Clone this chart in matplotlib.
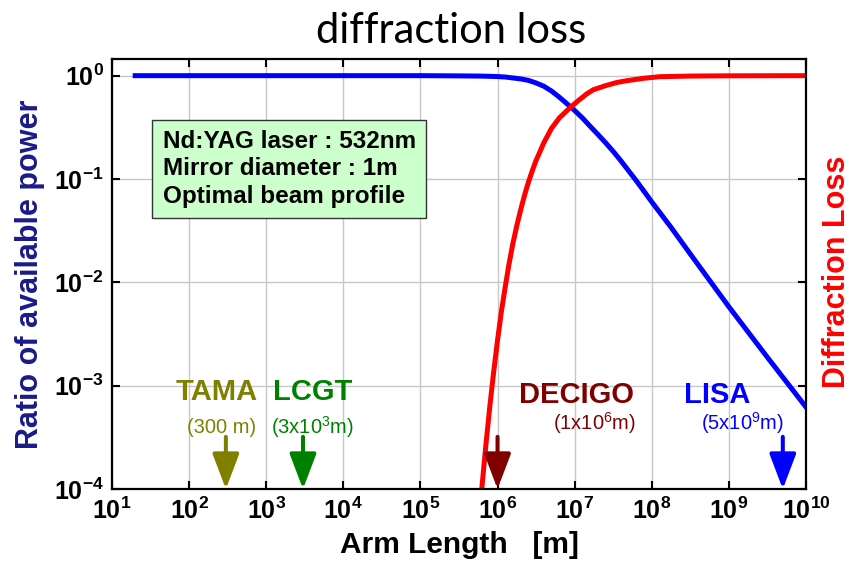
import numpy as np
import matplotlib
matplotlib.use('Agg')
import matplotlib.pyplot as plt

plt.rcParams['font.family'] = ['Liberation Sans', 'DejaVu Sans']
plt.rcParams['mathtext.fontset'] = 'custom'
plt.rcParams['mathtext.rm'] = 'Liberation Sans'
plt.rcParams['mathtext.bf'] = 'Liberation Sans:bold'
plt.rcParams['mathtext.it'] = 'Liberation Sans:italic'

# Curva azul: razao de potencia disponivel
blue_x = [20, 1e5, 3.16e5, 6.31e5, 1e6, 1.26e6, 1.58e6, 2.0e6, 2.51e6, 3.16e6,
          3.98e6, 5.01e6, 6.31e6, 7.94e6, 1e7, 1.26e7, 1.58e7, 2.0e7, 2.51e7,
          3.16e7, 3.98e7, 5.01e7, 6.31e7, 7.94e7, 1e8, 1.78e8, 3.16e8, 1e9,
          3.16e9, 1e10]
blue_y = [1.0, 1.0, 0.995, 0.99, 0.98, 0.97, 0.95, 0.93, 0.90, 0.85,
          0.79, 0.71, 0.62, 0.535, 0.46, 0.39, 0.325, 0.27, 0.225,
          0.185, 0.15, 0.12, 0.096, 0.076, 0.06, 0.034, 0.0188, 5.8e-3,
          1.88e-3, 6.2e-4]

# Curva vermelha: perda por difracao
red_x = [6.24e5, 7.08e5, 7.94e5, 8.91e5, 1e6, 1.12e6, 1.26e6, 1.41e6, 1.58e6,
         1.78e6, 2.0e6, 2.24e6, 2.51e6, 2.82e6, 3.16e6, 3.98e6, 5.01e6, 6.31e6,
         8.71e6, 1.12e7, 1.41e7, 1.74e7, 2.51e7, 3.55e7, 4.79e7, 7.94e7,
         1.26e8, 3.16e8, 1e9, 1e10]
red_y = [1e-4, 2.72e-4, 6.3e-4, 1.36e-3, 2.75e-3, 5.19e-3, 9.1e-3, 0.0151, 0.0237,
         0.0355, 0.0507, 0.0697, 0.0929, 0.120, 0.151, 0.224, 0.309, 0.389,
         0.49, 0.575, 0.66, 0.73, 0.80, 0.86, 0.895, 0.944,
         0.977, 0.991, 0.9966, 1.0]

# Detectores
det_names = ['TAMA', 'LCGT', 'DECIGO', 'LISA']
det_length = [300, 3e3, 1e6, 5e9]
det_sub = [r'(300 m)', r'(3x10$^{3}$m)', r'(1x10$^{6}$m)', r'(5x10$^{9}$m)']
det_colors = ['#808000', '#008000', '#800000', '#0000ff']

xticks = [10.0 ** k for k in range(1, 11)]
xlabels = [r'$\mathbf{10^{%d}}$' % k for k in range(1, 11)]
yticks = [1e-4, 1e-3, 1e-2, 1e-1, 1e0]
ylabels = [r'$\mathbf{10^{-4}}$', r'$\mathbf{10^{-3}}$', r'$\mathbf{10^{-2}}$',
           r'$\mathbf{10^{-1}}$', r'$\mathbf{10^{0}}$']

fig = plt.figure(figsize=(8.54, 5.76), dpi=100)
ax = fig.add_axes([0.1311, 0.151, 0.8127, 0.7466])

ax.plot(blue_x, blue_y, color='#0000ff', lw=3.6, solid_joinstyle='round')
ax.plot(red_x, red_y, color='#ff0000', lw=3.6, solid_joinstyle='round')

ax.set_xscale('log')
ax.set_yscale('log')
ax.set_xlim(10, 1e10)
ax.set_ylim(1e-4, 1.45)
ax.set_xticks(xticks)
ax.set_xticklabels(xlabels)
ax.set_yticks(yticks)
ax.set_yticklabels(ylabels)
ax.minorticks_off()
ax.tick_params(which='major', direction='in', length=6, width=1.5,
               top=True, right=True, labelsize=18, pad=6, colors='black')
ax.grid(True, color='#c8c8c8', lw=1)
for s in ax.spines.values():
    s.set_linewidth(1.6)

ax.set_xlabel('Arm Length   [m]', fontsize=21.5, fontweight='bold', labelpad=5)
ax.set_ylabel('Ratio of available power', fontsize=22, fontweight='bold',
              color='#1a1a8c', labelpad=6)
fig.text(837 / 854, 1 - 272 / 576, 'Diffraction Loss', fontsize=22,
         fontweight='bold', color='#ff0000', rotation=90, ha='center', va='center')
fig.text(451 / 854, 1 - 31 / 576, 'diffraction loss', fontsize=30,
         family='Lato', ha='center', va='center')

ax.text(0.073, 0.835, 'Nd:YAG laser : 532nm\nMirror diameter : 1m\nOptimal beam profile',
        transform=ax.transAxes, fontsize=17.5, fontweight='bold', va='top', ha='left',
        linespacing=1.25,
        bbox=dict(boxstyle='square,pad=0.42', fc='#ccffcc', ec='#333333', lw=1))

# posicoes dos rotulos (em decadas, relativo a seta)
name_dx = [-0.12, 0.13, 1.03, -0.85]
sub_dx = [-0.05, 0.13, 1.26, -0.52]
for name, L, sub, c, dn, ds in zip(det_names, det_length, det_sub, det_colors,
                                   name_dx, sub_dx):
    ax.annotate('', xy=(L, 1e-4), xytext=(L, 3.2e-4),
                arrowprops=dict(arrowstyle='-|>,head_length=1.08,head_width=0.41',
                                lw=2.9, color=c, mutation_scale=20,
                                shrinkA=0, shrinkB=0))
    ny = 10 ** (-(392 - 75.7) / 103.3) if name in ('TAMA', 'LCGT') else 10 ** (-(395 - 75.7) / 103.3)
    sy = 10 ** (-(427 - 75.7) / 103.3) if name in ('TAMA', 'LCGT') else 10 ** (-(423 - 75.7) / 103.3)
    ax.text(L * 10 ** dn, ny, name, color=c, fontsize=21, fontweight='bold',
            ha='center', va='center')
    ax.text(L * 10 ** ds, sy, sub, color=c, fontsize=14.5, ha='center', va='center')

fig.savefig('out.png', dpi=100)
